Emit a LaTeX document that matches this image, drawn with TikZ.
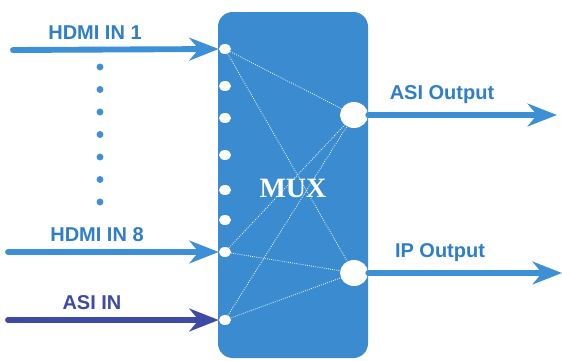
\documentclass[tikz,border=0pt]{standalone}
\usepackage{fontspec}
\setmainfont{Liberation Sans}
\newfontfamily\muxfont{Liberation Serif}
\usetikzlibrary{arrows.meta,shapes.geometric}
\definecolor{boxblue}{HTML}{3A8BCF}
\definecolor{linkblue}{HTML}{3D8FD6}
\definecolor{textblue}{HTML}{2F7EC6}
\definecolor{deepblue}{HTML}{3D4BA7}
\tikzset{
  port/.style={ellipse,fill=white,inner sep=0pt,minimum width=9pt,minimum height=7.5pt},
  outport/.style={ellipse,fill=white,inner sep=0pt,minimum width=21pt,minimum height=19.5pt},
  feed/.style={line width=4.4pt,line cap=round,-{Stealth[length=22pt,width=17pt,inset=7pt]}},
  lbl/.style={text=textblue,font=\bfseries\fontsize{15}{18}\selectfont},
  mesh/.style={white,densely dotted,line width=0.6pt}
}
\begin{document}
\begin{tikzpicture}[x=0.75pt,y=-0.75pt]
\useasboundingbox (0,0) rectangle (562,361);
% multiplexer body
\node [fill=boxblue,rounded corners=11pt,minimum width=112.5pt,minimum height=259.5pt] (mux) at (293,185) {};
\node [text=white,font=\muxfont\bfseries\fontsize{21}{24}\selectfont] (muxtxt) at (293,188) {MUX};
% ports
\foreach \i/\y in {1/49,2/86,3/118,4/155,5/190,6/220,7/252,8/320}
  \node [port] (in\i) at (225,\y) {};
\node [outport] (asiout) at (354,115) {};
\node [outport] (ipout) at (354,273) {};
% internal links
\foreach \i in {1,7,8} {
  \draw [mesh] (in\i) -- (asiout);
  \draw [mesh] (in\i) -- (ipout);
}
% inputs
\coordinate (hdmi1start) at (13,50);
\coordinate (hdmi8start) at (8,252);
\coordinate (asistart) at (8,320);
\draw [feed,linkblue] (hdmi1start) -- (in1.west);
\draw [feed,linkblue] (hdmi8start) -- (in7.west);
\draw [feed,deepblue] (asistart) -- (in8.west);
\node [lbl] (hdmi1lbl) at (95,33) {HDMI IN 1};
\node [lbl] (hdmi8lbl) at (97,235) {HDMI IN 8};
\node [lbl,text=deepblue] (asilbl) at (92,303) {ASI IN};
\foreach \n in {0,...,6}
  \fill [linkblue] (100,67+22.5*\n) circle (2.6pt);
% outputs
\coordinate (asiend) at (557,115);
\coordinate (ipend) at (562,273);
\draw [feed,linkblue] (asiout.east) -- (asiend);
\draw [feed,linkblue] (ipout.east) -- (ipend);
\node [lbl] (asioutlbl) at (442,95) {ASI Output};
\node [lbl] (ipoutlbl) at (440,253) {IP Output};
\end{tikzpicture}
\end{document}
